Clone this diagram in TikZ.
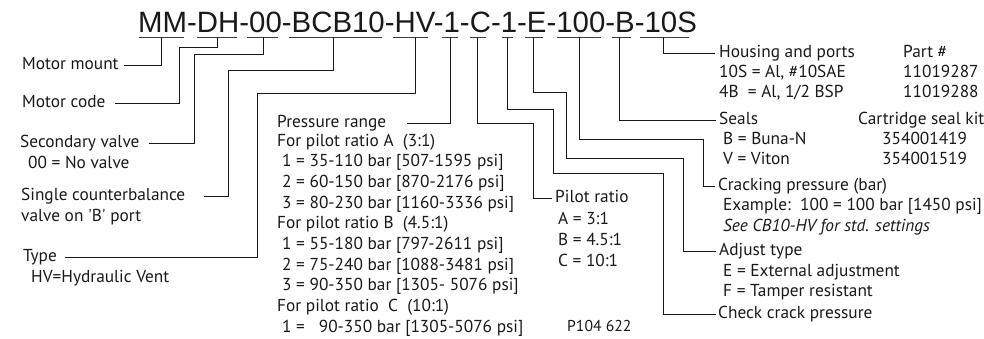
\documentclass[tikz,border=0pt]{standalone}
\usepackage{fontspec}
\setmainfont{PT Sans}
\newfontfamily\codefont{Liberation Sans}
\begin{document}
\begin{tikzpicture}[x=1pt,y=-1pt,
  t/.style={anchor=west, inner sep=0pt, text height=11pt, text depth=3pt, font=\fontsize{17.3}{20}\selectfont, text=black!90},
  conn/.style={draw=black!90, line width=0.9pt},
  ul/.style={draw=black!75, line width=1pt}]
\useasboundingbox (0,0) rectangle (984,338);
% code line
\node[anchor=base west, inner sep=0pt, font=\codefont\fontsize{29.4}{30}\selectfont, text=black!90] (code) at (138,32) {MM-DH-00-BCB10-HV-1-C-1-E-100-B-10S};
% underlines
\foreach \a/\b in {139/184,197/237,247/278,289/382,393/428,442/458,470/486,502/513,525/543,557/601,612/631,640/689}
  \draw[ul] (\a,37) -- (\b,37);
\coordinate (uMM) at (161,37);
\coordinate (uDH) at (217,37);
\coordinate (u00) at (263,37);
\coordinate (uBCB) at (333,37);
\coordinate (uHV) at (415,37);
\coordinate (u1) at (450,37);
\coordinate (uC) at (477,37);
\coordinate (u1b) at (507,37);
\coordinate (uE) at (533,37);
\coordinate (u100) at (579,37);
\coordinate (uB) at (619,37);
\coordinate (u10S) at (663,37);
% left labels
\node[t] (mm) at (22,65) {Motor mount};
\node[t] (mc) at (22,103) {Motor code};
\node[t] (sv) at (20,143) {Secondary valve};
\node[t] (svd) at (28,164) {00 = No valve};
\node[t] (scb) at (21,196) {Single counterbalance};
\node[t] (scbd) at (21,217) {valve on \textquotesingle B\textquotesingle{} port};
\node[t] (ty) at (23,257) {Type};
\node[t] (tyd) at (31,278) {HV=Hydraulic Vent};
% pressure range block
\node[t] (pr) at (277,123) {Pressure range};
\node[t] (pA) at (277,142) {For pilot ratio A\ \ (3:1)};
\node[t] (pA1) at (282,162.5) {1 = 35-110 bar [507-1595 psi]};
\node[t] (pA2) at (282,183) {2 = 60-150 bar [870-2176 psi]};
\node[t] (pA3) at (282,204) {3 = 80-230 bar [1160-3336 psi]};
\node[t] (pB) at (277,224.5) {For pilot ratio B\ \ (4.5:1)};
\node[t] (pB1) at (282,245) {1 = 55-180 bar [797-2611 psi]};
\node[t] (pB2) at (282,266) {2 = 75-240 bar [1088-3481 psi]};
\node[t] (pB3) at (282,286.5) {3 = 90-350 bar [1305- 5076 psi]};
\node[t] (pC) at (277,307) {For pilot ratio\ \ C\ \ (10:1)};
\node[t] (pC1) at (282,328) {1 = \ \ 90-350 bar [1305-5076 psi]};
% pilot ratio
\node[t] (pl) at (555,198) {Pilot ratio};
\node[t] (plA) at (558,220) {A = 3:1};
\node[t] (plB) at (558,241) {B = 4.5:1};
\node[t] (plC) at (558,262) {C = 10:1};
\node[t, font=\fontsize{15.7}{18}\selectfont] (pn) at (567,327) {P104 622};
% right block
\node[t] (hp) at (719,53) {Housing and ports};
\node[t] (hp1) at (719,73) {10S = Al, \#10SAE};
\node[t] (hp2) at (719,93) {4B\ \ = Al, 1/2 BSP};
\node[t] (part) at (903,53) {Part \#};
\node[t] (part1) at (903,73) {11019287};
\node[t] (part2) at (903,93) {11019288};
\node[t] (se) at (719,120) {Seals};
\node[t] (se1) at (723,140) {B = Buna-N};
\node[t] (se2) at (723,160) {V = Viton};
\node[t] (kit) at (858,120) {Cartridge seal kit};
\node[t] (kit1) at (882,140) {354001419};
\node[t] (kit2) at (882,160) {354001519};
\node[t] (cp) at (718,186) {Cracking pressure (bar)};
\node[t] (cp1) at (723,206) {Example:\ \ 100 = 100 bar [1450 psi]};
\node[t] (cp2) at (723,227) {\itshape See CB10-HV for std. settings};
\node[t] (at) at (719,251) {Adjust type};
\node[t] (at1) at (723,272) {E = External adjustment};
\node[t] (at2) at (723,292) {F = Tamper resistant};
\node[t] (cc) at (718,314) {Check crack pressure};
% connectors
\draw[conn] (uMM) |- ([xshift=5pt]mm.east);
\draw[conn] (uDH) |- (179,47) |- ([xshift=9pt]mc.east);
\draw[conn] (u00) |- (194,54) |- ([xshift=9pt]sv.east);
\draw[conn] (uBCB) |- (228,70) |- ([xshift=19pt]scb.east);
\draw[conn] (uHV) |- (257,93) |- ([xshift=8pt]ty.east);
\draw[conn] (u1) |- ([xshift=21pt]pr.east);
\draw[conn] (uC) |- (533,123) |- ([xshift=-3pt]pl.west);
\draw[conn] (u1b) |- (553,109) |- (663,173) |- ([xshift=-2pt]cc.west);
\draw[conn] (uE) |- (566,92) |- (683,158) |- ([xshift=-3pt]at.west);
\draw[conn] (u100) |- (703,139) |- ([xshift=-3pt]cp.west);
\draw[conn] (uB) |- ([xshift=-3pt]se.west);
\draw[conn] (u10S) |- ([xshift=-4pt]hp.west);
\end{tikzpicture}
\end{document}
